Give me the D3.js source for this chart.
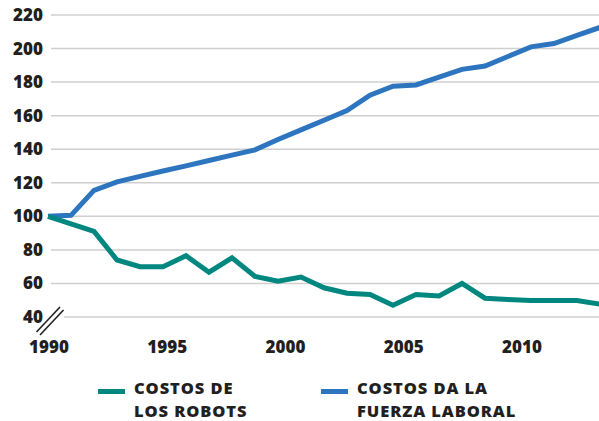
<!DOCTYPE html>
<html>
<head>
<meta charset="utf-8">
<script src="https://cdn.jsdelivr.net/npm/d3@7"></script>
<style>
  html, body { margin: 0; padding: 0; background: #fff; }
  svg { display: block; }
  text { font-family: "Open Sans", "Noto Sans", sans-serif; font-weight: 800; fill: #231f20; }
</style>
</head>
<body>
<svg id="chart" width="599" height="421"></svg>
<script>
const years = d3.range(1990, 2015);
const robotCosts = [100, 95.5, 91, 74, 70, 70, 76.5, 66.7, 75.3, 64.2, 61.3, 63.8, 57.4, 54.2, 53.4, 47, 53.4, 52.5, 60, 51.2, 50.4, 49.8, 49.9, 49.8, 47.6];
const laborCosts = [100, 100.6, 115.5, 120.5, 123.8, 127, 130.1, 133.3, 136.5, 139.6, 145.8, 151.5, 157.3, 163.1, 172.2, 177.6, 178.3, 183, 187.6, 189.6, 195.3, 201, 203, 207.8, 212.6];
const yTicks = [40, 60, 80, 100, 120, 140, 160, 180, 200, 220];
const xTickLabels = [1990, 1995, 2000, 2005, 2010];
const legendItems = [
  { lines: ["COSTOS DE", "LOS ROBOTS"], color: "#00877f" },
  { lines: ["COSTOS DA LA", "FUERZA LABORAL"], color: "#2e75c0" }
];
const seriesColors = { robot: "#00877f", labor: "#2e75c0" };

const svg = d3.select("#chart");
const x = d3.scaleLinear().domain([1990, 2014]).range([48, 600]);
const xLab = d3.scaleLinear().domain([1990, 2010]).range([49, 522]);
const y = d3.scaleLinear().domain([40, 220]).range([317, 15]);

// gridlines
const grid = svg.append("g");
grid.selectAll("line").data(yTicks).join("line")
  .attr("x1", d => d === 40 ? 64 : 51)
  .attr("x2", 599)
  .attr("y1", d => y(d)).attr("y2", d => y(d))
  .attr("stroke", "#cfcfcf").attr("stroke-width", 1.5);

// y labels
svg.append("g").selectAll("text").data(yTicks).join("text")
  .attr("x", 43).attr("y", d => y(d) + 6)
  .attr("text-anchor", "end")
  .attr("font-size", 17)
  .text(d => d);

// x labels
svg.append("g").selectAll("text").data(xTickLabels).join("text")
  .attr("x", d => xLab(d)).attr("y", 353)
  .attr("text-anchor", "middle")
  .attr("font-size", 17)
  .text(d => d);

// axis break marks
const brk = svg.append("g").attr("stroke", "#231f20").attr("stroke-width", 1.6);
brk.append("line").attr("x1", 36.5).attr("y1", 332).attr("x2", 60).attr("y2", 307);
brk.append("line").attr("x1", 40).attr("y1", 335).attr("x2", 63.5).attr("y2", 310);

// lines
const line = d3.line().x((d, i) => x(years[i])).y(d => y(d)).curve(d3.curveLinear);
svg.append("path").datum(laborCosts)
  .attr("d", line).attr("fill", "none")
  .attr("stroke", seriesColors.labor).attr("stroke-width", 5)
  .attr("stroke-linejoin", "miter");
svg.append("path").datum(robotCosts)
  .attr("d", line).attr("fill", "none")
  .attr("stroke", seriesColors.robot).attr("stroke-width", 5)
  .attr("stroke-linejoin", "miter");

// legend
const legendX = [98, 321];
legendItems.forEach((item, i) => {
  const g = svg.append("g").attr("transform", `translate(${legendX[i]},0)`);
  g.append("line").attr("x1", 0).attr("x2", 27).attr("y1", 391.5).attr("y2", 391.5)
    .attr("stroke", item.color).attr("stroke-width", 5);
  item.lines.forEach((t, j) => {
    g.append("text").attr("x", 36).attr("y", 394 + j * 22.6)
      .attr("font-size", 16.5).attr("letter-spacing", 0.9).text(t);
  });
});
</script>
</body>
</html>
